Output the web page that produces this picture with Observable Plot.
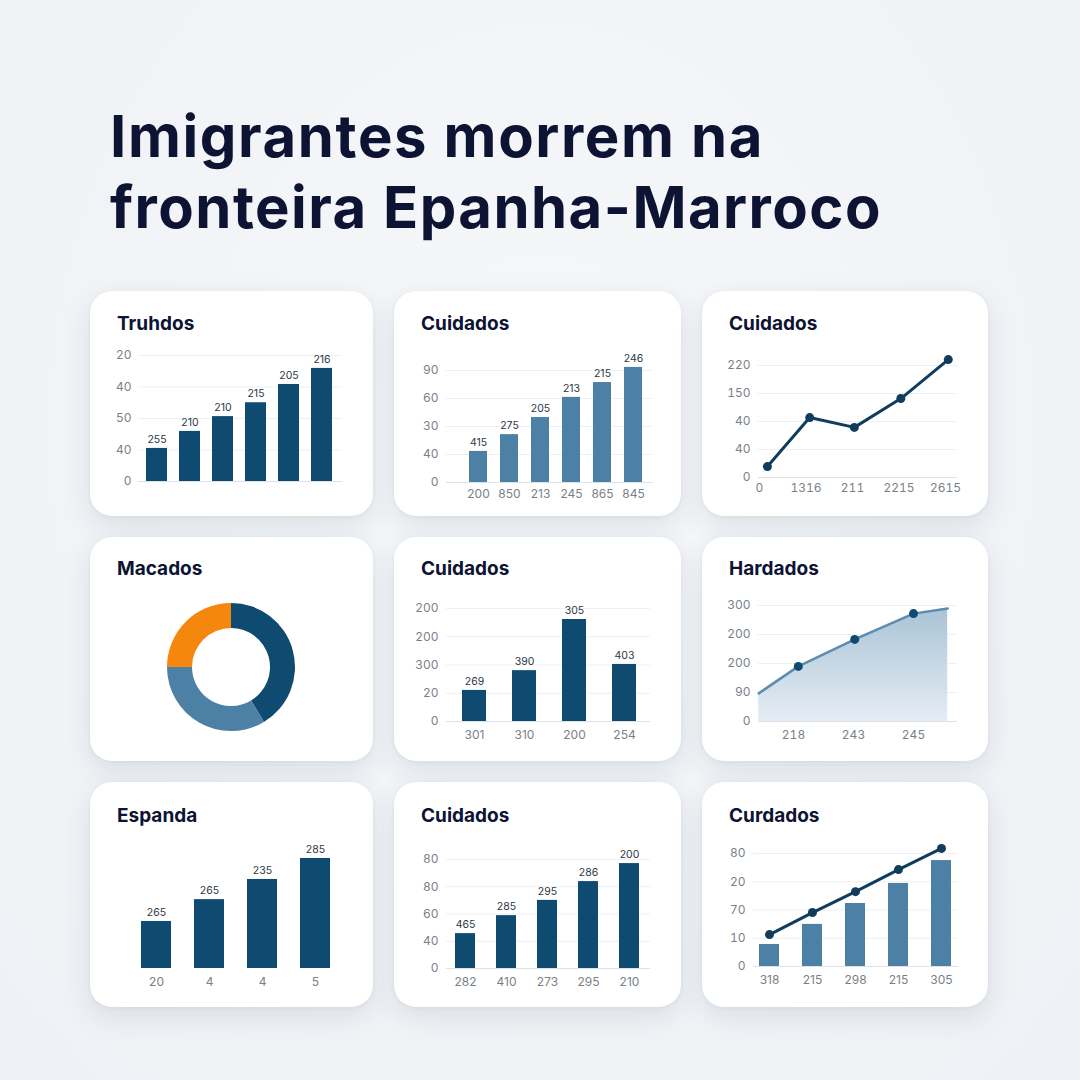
<!DOCTYPE html>
<html><head><meta charset="utf-8">
<script src="https://cdn.jsdelivr.net/npm/d3@7"></script>
<script src="https://cdn.jsdelivr.net/npm/@observablehq/plot@0.6"></script>
<style>
html,body{margin:0;padding:0}
body{width:1080px;height:1080px;background:radial-gradient(ellipse at 50% 40%, #f6f7f9 0%, #eef1f5 100%);position:relative;overflow:hidden;font-family:Inter, "Noto Sans", sans-serif}
.title{position:absolute;left:110px;color:#0d1333;font-weight:700;font-size:58px;white-space:nowrap;line-height:1}
.card{position:absolute;background:#fff;border-radius:22px;box-shadow:0 10px 28px rgba(40,60,95,0.11),0 1px 4px rgba(40,60,95,0.06)}
.ptitle{position:absolute;font-weight:700;font-size:19px;color:#0d1333;white-space:nowrap;line-height:1}
.chart{position:absolute}
</style></head><body>
<div class="title" id="t1" style="top:107px">Imigrantes morrem na</div>
<div class="title" id="t2" style="top:178px">fronteira Epanha-Marroco</div>
<script>
// ===== DATA =====
const panelTitles = ["Truhdos","Cuidados","Cuidados","Macados","Cuidados","Hardados","Espanda","Cuidados","Curdados"];

const p1Values = [1.05, 1.59, 2.06, 2.5, 3.08, 3.59];
const p1ValueLabels = ["255","210","210","215","205","216"];
const p1YTicks = ["0","40","50","40","20"];

const p2Values = [1.11, 1.71, 2.32, 3.04, 3.57, 4.11];
const p2ValueLabels = ["415","275","205","213","215","246"];
const p2XLabels = ["200","850","213","245","865","845"];
const p2YTicks = ["0","40","30","60","90"];

const p3X = [0.17, 1.08, 2.04, 3.04, 4.06];
const p3Values = [0.39, 2.14, 1.79, 2.82, 4.21];
const p3XLabels = ["0","1316","211","2215","2615"];
const p3YTicks = ["0","40","40","150","220"];

const p4Segments = ["a","b","c"];
const p4Values = [41.4, 33.6, 25];

const p5Values = [1.1, 1.8, 3.61, 2.02];
const p5ValueLabels = ["269","390","305","403"];
const p5XLabels = ["301","310","200","254"];
const p5YTicks = ["0","20","300","200","200"];

const p6X = [0.42, 1.08, 2.02, 3.0, 3.57];
const p6Values = [0.97, 1.9, 2.83, 3.72, 3.9];
const p6Marked = [false, true, true, true, false];
const p6XTicks = [1, 2, 3];
const p6XLabels = ["218","243","245"];
const p6YTicks = ["0","90","200","200","300"];

const p7Values = [1.68, 2.46, 3.18, 3.93];
const p7ValueLabels = ["265","265","235","285"];
const p7XLabels = ["20","4","4","5"];

const p8Values = [1.28, 1.94, 2.5, 3.19, 3.85];
const p8ValueLabels = ["465","285","295","286","200"];
const p8XLabels = ["282","410","273","295","210"];
const p8YTicks = ["0","40","60","80","80"];

const p9Bars = [0.78, 1.49, 2.23, 2.94, 3.75];
const p9Line = [1.13, 1.91, 2.65, 3.43, 4.18];
const p9XLabels = ["318","215","298","215","305"];
const p9YTicks = ["0","10","70","20","80"];

// ===== STYLE / LAYOUT =====
const DARK = "#0f4b70", MID = "#4c80a4", NAVY = "#103c5e", ORANGE = "#f5870f";
const TICK = "#7a7f87", VAL = "#2c3747", GRID = "#eceff3", BASE = "#dde2e8";
const TICKSIZE = 12;
const p4Colors = [DARK, MID, ORANGE];
const cardX = [90, 394, 702], cardW = [283, 287, 286];
const cardY = [291, 537, 782], cardH = [225, 224, 225];
const titleX = [117, 421, 729], titleTop = [314, 559, 806];

function fitTitle(id, targetW){
  const el = document.getElementById(id);
  const w = el.getBoundingClientRect().width;
  const n = el.textContent.length;
  el.style.letterSpacing = ((targetW - w) / n) + "px";
}
fitTitle("t1", 654);
fitTitle("t2", 772);

for (let r = 0; r < 3; r++) for (let c = 0; c < 3; c++) {
  const d = document.createElement("div");
  d.className = "card";
  Object.assign(d.style, {left: cardX[c]+"px", top: cardY[r]+"px", width: cardW[c]+"px", height: cardH[r]+"px"});
  document.body.appendChild(d);
  const t = document.createElement("div");
  t.className = "ptitle";
  t.textContent = panelTitles[r*3+c];
  Object.assign(t.style, {left: titleX[c]+"px", top: titleTop[r]+"px"});
  document.body.appendChild(t);
}

function place(svg, left, top){
  svg.classList.add("chart");
  svg.style.left = left + "px"; svg.style.top = top + "px";
  document.body.appendChild(svg);
}

function frame(L){
  const mL = 45, mT = 30, mR = 15, mB = 30;
  const left = L.x0 - mL, top = L.yTop - mT;
  return {left, top, width: L.x1 - left + mR, height: L.yBase - top + mB,
    marginLeft: mL, marginTop: mT, marginRight: mR, marginBottom: mB};
}

function bandX(L, f, n){
  const step = (L.barR - L.barL - L.barW) / (n - 1);
  return {type: "band", domain: d3.range(n), range: [L.barL - f.left, L.barR - f.left],
    paddingInner: 1 - L.barW / step, paddingOuter: 0, align: 0.5};
}

const baseStyle = {background: "transparent", fontFamily: "Inter, 'Noto Sans', sans-serif", overflow: "visible"};

function yAxisMarks(labels, pad){
  return [
    Plot.gridY([1,2,3,4], {stroke: GRID, strokeOpacity: 1, strokeWidth: 1}),
    Plot.ruleY([0], {stroke: BASE, strokeWidth: 1}),
    Plot.axisY([0,1,2,3,4], {tickSize: 0, tickPadding: pad, tickFormat: i => labels[i], fill: TICK, fontSize: TICKSIZE, label: null})
  ];
}

function barPanel(L, values, valueLabels, xLabels, yLabels, color, opts = {}){
  const f = frame(L);
  const rows = values.map((v, i) => ({i, v, label: valueLabels ? valueLabels[i] : ""}));
  const marks = [];
  if (yLabels) marks.push(...yAxisMarks(yLabels, L.pad ?? 8));
  else marks.push(Plot.ruleY([0], {stroke: BASE, strokeWidth: 1, x1: L.x0 - f.left, x2: L.x1 - f.left}));
  marks.push(Plot.barY(rows, {x: "i", y: "v", fill: color}));
  if (valueLabels) marks.push(Plot.text(rows, {x: "i", y: "v", text: "label", dy: -9, fontSize: 10.5, fill: VAL}));
  if (xLabels) marks.push(Plot.axisX({tickSize: 0, tickPadding: L.xpad ?? 8, tickFormat: i => xLabels[i], fill: TICK, fontSize: TICKSIZE, label: null}));
  if (opts.extra) marks.push(...opts.extra(rows));
  const svg = Plot.plot({
    width: f.width, height: f.height, marginLeft: f.marginLeft, marginTop: f.marginTop,
    marginRight: f.marginRight, marginBottom: f.marginBottom,
    style: baseStyle,
    x: {...bandX(L, f, values.length), axis: null},
    y: {domain: [0, 4], axis: null},
    marks
  });
  place(svg, f.left, f.top);
}

// ----- Panel 1 -----
barPanel({x0:138, x1:342, yTop:355, yBase:481, barL:145, barR:332, barW:21, pad:7},
  p1Values, p1ValueLabels, null, p1YTicks, DARK);

// ----- Panel 2 -----
barPanel({x0:446, x1:653, yTop:370, yBase:482, barL:466, barR:644.5, barW:19, xpad:7},
  p2Values, p2ValueLabels, p2XLabels, p2YTicks, MID);

// ----- Panel 3 (line) -----
{
  const L = {x0:758, x1:957, yTop:365, yBase:477, xL:759, xR:945};
  const f = frame(L);
  const rows = p3Values.map((v, i) => ({x: p3X[i], v}));
  const svg = Plot.plot({
    width: f.width, height: f.height, marginLeft: f.marginLeft, marginTop: f.marginTop,
    marginRight: f.marginRight, marginBottom: f.marginBottom, style: baseStyle,
    x: {domain: [0, 4], range: [L.xL - f.left, L.xR - f.left], axis: null},
    y: {domain: [0, 4], axis: null},
    marks: [
      ...yAxisMarks(p3YTicks, 8),
      Plot.axisX([0,1,2,3,4], {tickSize: 0, tickPadding: 6, tickFormat: i => p3XLabels[i], fill: TICK, fontSize: TICKSIZE, label: null}),
      Plot.line(rows, {x: "x", y: "v", stroke: NAVY, strokeWidth: 3}),
      Plot.dot(rows, {x: "x", y: "v", r: 4.5, fill: NAVY})
    ]
  });
  place(svg, f.left, f.top);
}

// ----- Panel 4 (donut) -----
{
  const size = 150;
  const svg = Plot.plot({
    width: size, height: size, margin: 0, style: baseStyle,
    marks: [
      (index, scales, values, dims) => {
        const w = (dims && dims.width) || size, h = (dims && dims.height) || size;
        const g = d3.create("svg:g").attr("transform", `translate(${w/2},${h/2})`);
        const arcs = d3.pie().sort(null).value(d => d.v)(p4Values.map((v, i) => ({k: p4Segments[i], v})));
        g.selectAll("path").data(arcs).join("path")
          .attr("d", d3.arc().innerRadius(39).outerRadius(64))
          .attr("fill", (d, i) => p4Colors[i]);
        return g.node();
      }
    ]
  });
  place(svg, 231 - size/2, 666.5 - size/2);
}

// ----- Panel 5 -----
barPanel({x0:446, x1:650, yTop:608, yBase:721, barL:461, barR:637, barW:24, xpad:9},
  p5Values, p5ValueLabels, p5XLabels, p5YTicks, DARK);

// ----- Panel 6 (area) -----
{
  const L = {x0:758, x1:957, yTop:605, yBase:721, xL:793, xR:913};
  const f = frame(L);
  const rows = p6Values.map((v, i) => ({x: p6X[i], v, m: p6Marked[i]}));
  const svg = Plot.plot({
    width: f.width, height: f.height, marginLeft: f.marginLeft, marginTop: f.marginTop,
    marginRight: f.marginRight, marginBottom: f.marginBottom, style: baseStyle,
    x: {domain: [1, 3], range: [L.xL - f.left, L.xR - f.left], axis: null},
    y: {domain: [0, 4], axis: null},
    marks: [
      () => {
        const defs = d3.create("svg:defs");
        const lg = defs.append("linearGradient").attr("id", "p6grad").attr("x1", 0).attr("x2", 0).attr("y1", 0).attr("y2", 1);
        lg.append("stop").attr("offset", "0%").attr("stop-color", "#a9c3d6");
        lg.append("stop").attr("offset", "100%").attr("stop-color", "#e5edf4");
        return defs.node();
      },
      ...yAxisMarks(p6YTicks, 8),
      Plot.areaY(rows, {x: "x", y: "v", fill: "url(#p6grad)"}),
      Plot.axisX(p6XTicks, {tickSize: 0, tickPadding: 9, tickFormat: (d, i) => p6XLabels[i], fill: TICK, fontSize: TICKSIZE, label: null}),
      Plot.line(rows, {x: "x", y: "v", stroke: "#5c8db1", strokeWidth: 2.5}),
      Plot.dot(rows.filter(d => d.m), {x: "x", y: "v", r: 4.5, fill: DARK})
    ]
  });
  place(svg, f.left, f.top);
}

// ----- Panel 7 -----
barPanel({x0:123, x1:345, yTop:856, yBase:968, barL:140, barR:331, barW:30, xpad:9},
  p7Values, p7ValueLabels, p7XLabels, null, DARK);

// ----- Panel 8 -----
barPanel({x0:446, x1:650, yTop:859, yBase:968, barL:453, barR:640, barW:20, xpad:9},
  p8Values, p8ValueLabels, p8XLabels, p8YTicks, DARK);

// ----- Panel 9 (bars + line) -----
barPanel({x0:753, x1:958, yTop:853, yBase:966, barL:757, barR:952, barW:20, xpad:9},
  p9Bars, null, p9XLabels, p9YTicks, MID, {
    extra: () => {
      const lr = p9Line.map((v, i) => ({i, v}));
      return [
        Plot.line(lr, {x: "i", y: "v", stroke: NAVY, strokeWidth: 3}),
        Plot.dot(lr, {x: "i", y: "v", r: 4.5, fill: NAVY})
      ];
    }
  });
</script>
</body></html>
